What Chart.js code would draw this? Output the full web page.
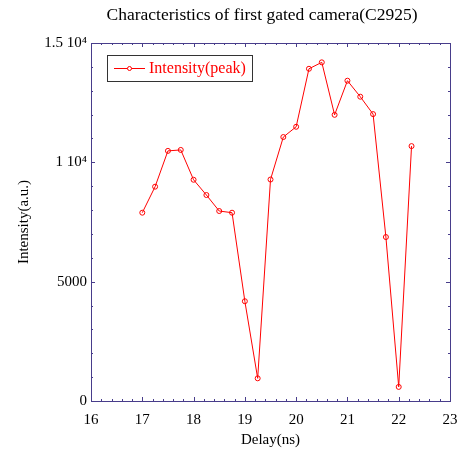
<!DOCTYPE html>
<html>
<head>
<meta charset="utf-8">
<script src="https://cdn.jsdelivr.net/npm/chart.js@4.4.0/dist/chart.umd.min.js"></script>
<style>
  html, body { margin: 0; padding: 0; background: #fff; }
  #wrap { width: 464px; height: 453px; }
</style>
</head>
<body>
<div id="wrap"><canvas id="chart"></canvas></div>
<script>
// data
var delay = [17, 17.25, 17.5, 17.75, 18, 18.25, 18.5, 18.75, 19, 19.25, 19.5,
             19.75, 20, 20.25, 20.5, 20.75, 21, 21.25, 21.5, 21.75, 22, 22.25];
var intensity = [7890, 8980, 10480, 10520, 9270, 8630, 7960, 7890, 4180, 950, 9280,
                 11060, 11490, 13920, 14190, 11990, 13420, 12750, 12020, 6870, 590, 10680];
var yTickLabels = {0: '0', 5000: '5000', 10000: '1 10\u2074', 15000: '1.5 10\u2074'};

var frameColor = '#483d8b';
var serif = "'Liberation Serif', 'DejaVu Serif', serif";

var frame_plug = {
  id: 'frame',
  afterDatasetsDraw: function(chart) {
    var ctx = chart.ctx,
        a = chart.chartArea,
        xs = chart.scales.x,
        ys = chart.scales.y;

    ctx.save();
    ctx.strokeStyle = frameColor;
    ctx.lineWidth = 1;
    ctx.strokeRect(Math.round(a.left) + 0.5, Math.round(a.top) + 0.5,
                   Math.round(a.right - a.left), Math.round(a.bottom - a.top));

    //inward ticks on all four sides
    ctx.beginPath();
    for (var i = 0; i <= 35; i++) {
      var v = 16 + i * 0.2;
      var px = Math.round(xs.getPixelForValue(v)) + 0.5;
      var len = (i % 5 === 0) ? 4 : 2;
      ctx.moveTo(px, a.bottom); ctx.lineTo(px, a.bottom - len);
      ctx.moveTo(px, a.top); ctx.lineTo(px, a.top + len);
    }
    for (var j = 0; j <= 15; j++) {
      var py = Math.round(ys.getPixelForValue(j * 1000)) + 0.5;
      var l = (j % 5 === 0) ? 4 : 2;
      ctx.moveTo(a.left, py); ctx.lineTo(a.left + l, py);
      ctx.moveTo(a.right, py); ctx.lineTo(a.right - l, py);
    }
    ctx.stroke();

    //legend box
    ctx.fillStyle = '#fff';
    ctx.fillRect(107, 55, 145, 26);
    ctx.strokeStyle = '#333';
    ctx.strokeRect(107.5, 55.5, 145, 26);
    ctx.strokeStyle = '#ff0000';
    ctx.beginPath();
    ctx.moveTo(114, 68.5); ctx.lineTo(145, 68.5);
    ctx.stroke();
    ctx.beginPath();
    ctx.arc(129.5, 68.5, 2, 0, Math.PI * 2);
    ctx.fillStyle = '#fff';
    ctx.fill();
    ctx.stroke();
    ctx.fillStyle = '#ff0000';
    ctx.font = '16px ' + serif;
    ctx.textBaseline = 'middle';
    ctx.fillText('Intensity(peak)', 149, 69);

    //title
    ctx.fillStyle = '#000';
    ctx.textAlign = 'center';
    ctx.font = '17.5px ' + serif;
    ctx.fillText('Characteristics of first gated camera(C2925)', 262, 15);
    ctx.restore();
  }
};

var ctx = document.getElementById('chart').getContext('2d');
var chart = new Chart(ctx, {
  type: 'line',
  plugins: [frame_plug],
  data: {
    datasets: [{
      label: 'Intensity(peak)',
      data: delay.map(function(d, i) { return {x: d, y: intensity[i]}; }),
      borderColor: '#ff0000',
      borderWidth: 1,
      pointRadius: 2.5,
      pointBorderWidth: 1,
      pointBackgroundColor: 'rgba(255,255,255,0)',
      pointBorderColor: '#ff0000',
      tension: 0
    }]
  },
  options: {
    responsive: true,
    maintainAspectRatio: false,
    animation: false,
    events: [],
    layout: { padding: { top: 43, right: 14, left: 0, bottom: 4 } },
    plugins: {
      legend: { display: false },
      title: { display: false },
      tooltip: { enabled: false }
    },
    scales: {
      x: {
        type: 'linear',
        min: 16,
        max: 23,
        grid: { display: false, tickLength: 7 },
        border: { display: false },
        ticks: { stepSize: 1, maxRotation: 0, color: '#000', padding: 3,
                 font: { family: serif, size: 15 } },
        title: { display: true, text: 'Delay(ns)', color: '#000', padding: 0,
                 font: { family: serif, size: 15 } },
        afterFit: function(s) { s.height = 48; }
      },
      y: {
        min: 0,
        max: 15000,
        grid: { display: false, drawTicks: false },
        border: { display: false },
        ticks: {
          stepSize: 5000,
          color: '#000',
          padding: 4,
          font: { family: serif, size: 15 },
          callback: function(v) { return yTickLabels[v] !== undefined ? yTickLabels[v] : ''; }
        },
        title: { display: true, text: 'Intensity(a.u.)', color: '#000',
                 padding: { top: 15, bottom: 0 },
                 font: { family: serif, size: 15 } },
        afterFit: function(s) { s.width = 91; }
      }
    }
  }
});
</script>
</body>
</html>
